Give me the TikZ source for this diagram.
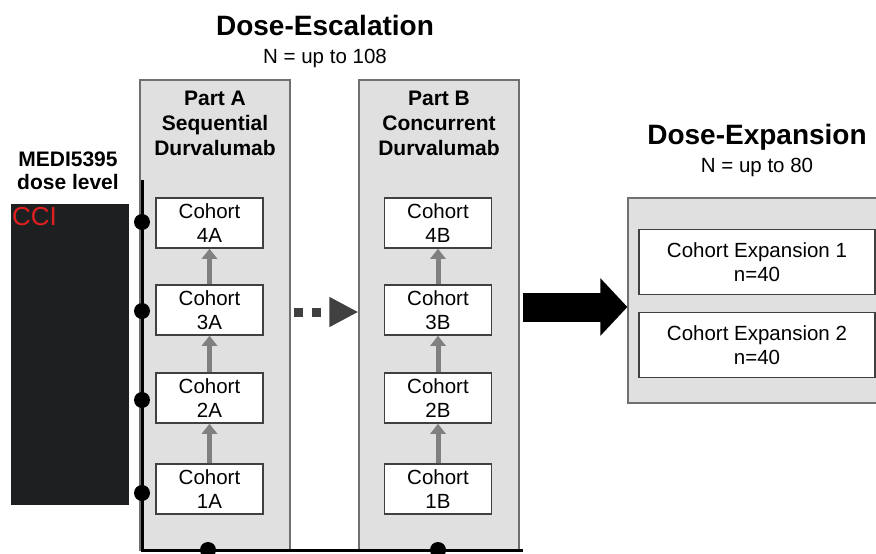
\documentclass[tikz,border=0pt]{standalone}
\usepackage{fontspec}
\setmainfont{Liberation Sans}
\usepackage{tikz}
\usetikzlibrary{arrows.meta}

\definecolor{panelgray}{HTML}{E0E0E0}
\definecolor{edgegray}{HTML}{707070}
\definecolor{boxedge}{HTML}{404040}
\definecolor{arrowgray}{HTML}{808080}
\definecolor{dotgray}{HTML}{404040}
\definecolor{redactblack}{HTML}{1E1F21}
\definecolor{cciRed}{HTML}{E02020}

\tikzset{
  panel/.style={draw=edgegray, fill=panelgray, line width=1.2pt, inner sep=0pt},
  cohort/.style={draw=boxedge, fill=white, line width=1.5pt, align=center,
    minimum width=107pt, minimum height=50pt, inner sep=0pt,
    font=\fontsize{20.5}{24}\selectfont},
  expbox/.style={cohort, minimum width=236pt, minimum height=65pt},
  headline/.style={inner sep=0pt, font=\fontsize{28}{32}\selectfont\bfseries},
  subhead/.style={inner sep=0pt, font=\fontsize{20.5}{24}\selectfont},
  parttitle/.style={inner sep=0pt, align=center, font=\fontsize{21}{25}\selectfont\bfseries},
  level/.style={circle, fill=black, inner sep=0pt, minimum size=16pt},
  axis/.style={line width=3pt},
  uparrow/.style={draw=arrowgray, line width=5pt, -{Triangle[length=10pt,width=15pt]}},
  dotarrow/.style={draw=dotgray, line width=9pt, dash pattern=on 9pt off 9pt,
    -{Triangle[length=29pt,width=28pt]}, shorten <=3pt},
  bigarrow/.style={draw=black, line width=29pt, -{Triangle[length=27pt,width=56pt]}},
}

\begin{document}
\begin{tikzpicture}[x=1pt,y=-1pt]
  \useasboundingbox (0,0) rectangle (876,554);

  \node[panel, minimum width=150pt, minimum height=470pt] (partA) at (215,315) {};
  \node[panel, minimum width=160pt, minimum height=470pt] (partB) at (439,315) {};
  \node[panel, minimum width=262pt, minimum height=205pt] (expand) at (759,300.5) {};

  \node[fill=redactblack, inner sep=0pt, minimum width=118pt, minimum height=301pt] (redact) at (70,354.5) {};
  \node[text=cciRed, inner sep=0pt, anchor=north west, font=\fontsize{26}{30}\selectfont] (cci) at (12,207) {CCI};

  \coordinate (axtop) at (142,180);
  \coordinate (axcorner) at (142,550);
  \coordinate (axend) at (523,550);
  \draw[axis] (axtop) -- (axcorner) -- (axend);

  \node[level] (lv4) at (142,222) {};
  \node[level] (lv3) at (142,311) {};
  \node[level] (lv2) at (142,400) {};
  \node[level] (lv1) at (142,493) {};
  \node[level] (ptA) at (208,550) {};
  \node[level] (ptB) at (438,550) {};

  \node[cohort] (c4A) at (209.5,223) {Cohort\\4A};
  \node[cohort] (c3A) at (209.5,310) {Cohort\\3A};
  \node[cohort] (c2A) at (209.5,398) {Cohort\\2A};
  \node[cohort] (c1A) at (209.5,489) {Cohort\\1A};
  \draw[uparrow] (c1A) -- (c2A);
  \draw[uparrow] (c2A) -- (c3A);
  \draw[uparrow] (c3A) -- (c4A);

  \node[cohort] (c4B) at (438,223) {Cohort\\4B};
  \node[cohort] (c3B) at (438,310) {Cohort\\3B};
  \node[cohort] (c2B) at (438,398) {Cohort\\2B};
  \node[cohort] (c1B) at (438,489) {Cohort\\1B};
  \draw[uparrow] (c1B) -- (c2B);
  \draw[uparrow] (c2B) -- (c3B);
  \draw[uparrow] (c3B) -- (c4B);

  \draw[dotarrow] ([yshift=3pt]partA.east) -- ([yshift=3pt]partB.west);

  \coordinate (gap) at (523,307);
  \draw[bigarrow] (gap) -- (gap -| expand.west);

  \node[expbox] (exp1) at (757,262) {Cohort Expansion 1\\n=40};
  \node[expbox] (exp2) at (757,345) {Cohort Expansion 2\\n=40};

  \node[headline, anchor=base] (esc) at (325,35) {Dose-Escalation};
  \node[subhead, anchor=base] (escN) at (325,63) {N = up to 108};
  \node[headline, anchor=base] (exp) at (757,144) {Dose-Expansion};
  \node[subhead, anchor=base] (expN) at (757,172) {N = up to 80};

  \node[parttitle] (titleA) at (215,123) {Part A\\Sequential\\Durvalumab};
  \node[parttitle] (titleB) at (439,123) {Part B\\Concurrent\\Durvalumab};
  \node[parttitle, font=\fontsize{21}{23}\selectfont\bfseries] (medi) at (68,171) {MEDI5395\\dose level};
\end{tikzpicture}
\end{document}
